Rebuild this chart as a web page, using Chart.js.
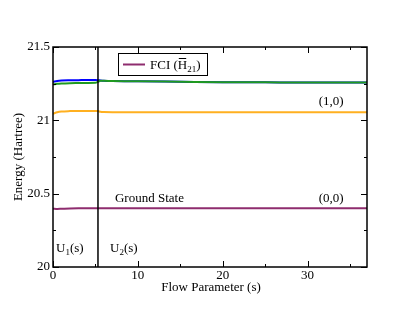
<!DOCTYPE html>
<html><head><meta charset="utf-8">
<script src="https://cdn.jsdelivr.net/npm/chart.js@4/dist/chart.umd.min.js"></script>
<style>html,body{margin:0;padding:0;background:#fff}#wrap{width:407px;height:315px}</style>
</head><body><div id="wrap"><canvas id="c" width="407" height="315"></canvas></div>
<script>
// Flow parameter samples
const flowS = [0, 0.5, 1, 2, 3, 4, 5, 5.3, 5.6, 6, 7, 10, 15, 20, 25, 30, 37];
const blueE = [21.262, 21.268, 21.271, 21.273, 21.274, 21.275, 21.275, 21.274, 21.272, 21.270, 21.268, 21.266, 21.263, 21.260, 21.259, 21.258, 21.258];
const greenE = [21.245, 21.249, 21.251, 21.253, 21.254, 21.255, 21.256, 21.262, 21.270, 21.270, 21.268, 21.266, 21.263, 21.260, 21.259, 21.258, 21.258];
const orangeE = [21.045, 21.055, 21.060, 21.063, 21.064, 21.064, 21.064, 21.063, 21.058, 21.056, 21.055, 21.055, 21.055, 21.055, 21.055, 21.055, 21.055];
const groundE = [20.398, 20.396, 20.397, 20.399, 20.400, 20.400, 20.400, 20.400, 20.400, 20.400, 20.400, 20.400, 20.400, 20.400, 20.400, 20.400, 20.400];
const switchS = [5.3, 5.3];
const switchE = [20, 21.5];
const xTickLabels = [0, 10, 20, 30];
const yTickLabels = [20, 20.5, 21, 21.5];
const annotations = [
  {text: "Ground State", x: 7.3, y: 20.445},
  {text: "(1,0)", x: 31.3, y: 21.105},
  {text: "(0,0)", x: 31.3, y: 20.445}
];

const FONT = '"Liberation Serif", "Times New Roman", serif';
const pts = (xs, ys) => xs.map((x, i) => ({x, y: ys[i]}));

const overlay = {
  id: 'overlay',
  afterDraw(chart) {
    const ctx = chart.ctx, xs = chart.scales.x, ys = chart.scales.y, a = chart.chartArea;
    ctx.save();
    ctx.strokeStyle = '#000'; ctx.lineWidth = 1.5;
    ctx.strokeRect(a.left, a.top, a.right - a.left, a.bottom - a.top);
    ctx.lineWidth = 1;
    for (let v = 0; v <= 37; v += 5) {
      const px = Math.round(xs.getPixelForValue(v)) + 0.5;
      const len = (v % 10 === 0) ? 6 : 3;
      ctx.beginPath();
      ctx.moveTo(px, a.bottom); ctx.lineTo(px, a.bottom - len);
      ctx.moveTo(px, a.top); ctx.lineTo(px, a.top + len);
      ctx.stroke();
    }
    for (let k = 0; k <= 6; k++) {
      const v = 20 + k * 0.25;
      const py = Math.round(ys.getPixelForValue(v)) + 0.5;
      const len = (k % 2 === 0) ? 6 : 3;
      ctx.beginPath();
      ctx.moveTo(a.left, py); ctx.lineTo(a.left + len, py);
      ctx.moveTo(a.right, py); ctx.lineTo(a.right - len, py);
      ctx.stroke();
    }
    ctx.fillStyle = '#000';
    ctx.font = '13px ' + FONT;
    ctx.textBaseline = 'alphabetic';
    ctx.textAlign = 'left';
    annotations.forEach(t => ctx.fillText(t.text, xs.getPixelForValue(t.x), ys.getPixelForValue(t.y)));
    const drawU = (sub, x, y) => {
      ctx.font = '13px ' + FONT;
      ctx.fillText('U', x, y);
      let w = ctx.measureText('U').width;
      ctx.font = '9px ' + FONT;
      ctx.fillText(sub, x + w, y + 3);
      w += ctx.measureText(sub).width;
      ctx.font = '13px ' + FONT;
      ctx.fillText('(s)', x + w, y);
    };
    drawU('1', 56, 252);
    drawU('2', 110, 252);
    ctx.font = '13px ' + FONT;
    ctx.textAlign = 'center';
    ctx.fillText('Flow Parameter (s)', 211, 291);
    ctx.save();
    ctx.translate(22, 157);
    ctx.rotate(-Math.PI / 2);
    ctx.fillText('Energy (Hartree)', 0, 0);
    ctx.restore();
    ctx.fillStyle = '#fff';
    ctx.fillRect(118, 53, 89, 22);
    ctx.strokeStyle = '#000'; ctx.lineWidth = 1;
    ctx.strokeRect(118.5, 53.5, 89, 22);
    ctx.strokeStyle = '#8e2c6e'; ctx.lineWidth = 2;
    ctx.beginPath(); ctx.moveTo(123, 64.5); ctx.lineTo(145, 64.5); ctx.stroke();
    ctx.fillStyle = '#000';
    ctx.textAlign = 'left';
    ctx.font = '13px ' + FONT;
    let lx = 150, ly = 69;
    ctx.fillText('FCI (', lx, ly); lx += ctx.measureText('FCI (').width;
    const hw = ctx.measureText('H').width;
    ctx.fillText('H', lx, ly);
    ctx.lineWidth = 1; ctx.strokeStyle = '#000';
    ctx.beginPath(); ctx.moveTo(lx + 1, 58.5); ctx.lineTo(lx + hw - 1, 58.5); ctx.stroke();
    lx += hw;
    ctx.font = '9px ' + FONT;
    ctx.fillText('21', lx, ly + 3); lx += ctx.measureText('21').width;
    ctx.font = '13px ' + FONT;
    ctx.fillText(')', lx, ly);
    ctx.restore();
  }
};

new Chart(document.getElementById('c'), {
  type: 'scatter',
  data: {
    datasets: [
      {label: 'switch', data: pts(switchS, switchE), showLine: true, borderColor: '#000', borderWidth: 1.5, pointRadius: 0},
      {label: 'green', data: pts(flowS, greenE), showLine: true, borderColor: '#1f9a1f', borderWidth: 2, pointRadius: 0, cubicInterpolationMode: 'monotone'},
      {label: 'blue', data: pts(flowS, blueE), showLine: true, borderColor: '#0000ff', borderWidth: 2, pointRadius: 0, cubicInterpolationMode: 'monotone'},
      {label: '(1,0)', data: pts(flowS, orangeE), showLine: true, borderColor: '#ffb020', borderWidth: 2, pointRadius: 0, cubicInterpolationMode: 'monotone'},
      {label: 'FCI', data: pts(flowS, groundE), showLine: true, borderColor: '#8e2c6e', borderWidth: 2, pointRadius: 0, cubicInterpolationMode: 'monotone'}
    ]
  },
  options: {
    responsive: false,
    animation: false,
    layout: {padding: {left: 0, top: 47, right: 40, bottom: 0}},
    plugins: {legend: {display: false}, tooltip: {enabled: false}},
    scales: {
      x: {
        type: 'linear', min: 0, max: 37,
        afterFit(s) { s.height = 48; },
        grid: {display: false, drawTicks: false, tickLength: 0}, border: {display: false},
        ticks: {
          stepSize: 10, color: '#000', padding: 1, maxRotation: 0,
          font: {family: FONT, size: 13},
          callback: v => xTickLabels.includes(v) ? String(v) : ''
        }
      },
      y: {
        type: 'linear', min: 20, max: 21.5,
        afterFit(s) { s.width = 53; },
        grid: {display: false, drawTicks: false, tickLength: 0}, border: {display: false},
        ticks: {
          stepSize: 0.5, color: '#000', padding: 3,
          font: {family: FONT, size: 13},
          callback: v => yTickLabels.includes(v) ? String(v) : ''
        }
      }
    }
  },
  plugins: [overlay]
});
</script>
</body></html>
